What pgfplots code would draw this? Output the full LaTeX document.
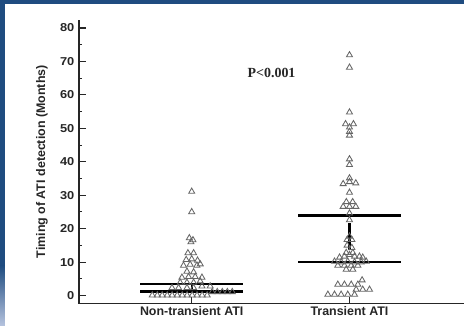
\documentclass[border=0pt]{standalone}
\usepackage{pgfplots}
\pgfplotsset{compat=1.18}
\usepackage{fontspec}
\setmainfont{Liberation Sans}
\newfontfamily\tickfont[FakeStretch=1.12]{Liberation Sans}
\newfontfamily\pfont{Liberation Serif}
\definecolor{frame}{HTML}{1F4C80}
\definecolor{framelight}{HTML}{B5C3DE}
\begin{document}
\begin{tikzpicture}[x=1bp,y=1bp]
\fill[white] (0,0) rectangle (465,326);
\fill[frame] (0,322) rectangle (465,326);
\fill[frame] (0,60) rectangle (5,326);
\shade[top color=frame,bottom color=framelight] (0,0) rectangle (5,60);
\begin{axis}[
  at={(79bp,22bp)}, anchor=south west,
  scale only axis, width=386bp, height=284bp,
  xmin=0.285, xmax=2.728, ymin=-2.4, ymax=82.4,
  axis x line=bottom, axis y line=left,
  axis line style={-, line width=1.3pt, black!85},
  tick align=inside,
  major tick length=7bp, minor tick length=3.5bp,
  tick style={line width=1.1pt, black!85},
  ytick={0,10,...,80}, minor ytick={5,15,...,75},
  xtick={1,2}, xticklabels={Non-transient ATI, Transient ATI},
  /pgf/number format/assume math mode=true,
  yticklabel style={font=\tickfont\bfseries\fontsize{11.5}{13}\selectfont, xshift=-1bp, text=black!85},
  xticklabel style={font=\bfseries\fontsize{12.5}{14}\selectfont, yshift=1bp, text=black!85},
  ylabel={Timing of ATI detection (Months)},
  ylabel style={font=\bfseries\fontsize{12.5}{14}\selectfont, at={(axis description cs:-0.096,0.5)}, anchor=center, text=black!85},
  clip=false,
]
\addplot[black, line width=2.4pt] coordinates {(0.675,3.5)(1.325,3.5)};
\addplot[black, line width=2.4pt] coordinates {(0.675,1.2)(1.325,1.2)};
\addplot[black, line width=2pt] coordinates {(1.0,1.2)(1.0,3.5)};
\addplot[black, line width=2.4pt] coordinates {(1.675,23.9)(2.325,23.9)};
\addplot[black, line width=2.4pt] coordinates {(1.675,10.0)(2.325,10.0)};
\addplot[black, line width=2.2pt] coordinates {(2.0,13.5)(2.0,21.8)};
% Non-transient ATI
\addplot[only marks, mark=triangle, mark size=3.5pt, mark options={draw=black!60, fill=white, line width=0.85pt}] coordinates {
(1.0,31.1)(1.0,25.0)(0.985,17.2)(1.008,16.6)(0.995,16.0)
(0.976,12.7)(1.012,12.7)
(0.965,10.7)(1.0,10.9)(1.037,10.5)
(0.948,9.0)(0.99,9.3)(1.033,9.0)(1.054,9.4)
(0.97,7.2)(1.012,7.0)
(0.938,5.4)(0.98,5.6)(1.022,5.6)(1.065,5.4)
(0.927,3.9)(0.97,3.9)(1.012,3.9)(1.054,4.3)
(0.875,2.3)(0.917,2.3)(0.97,2.3)(1.012,2.3)(1.065,2.8)(1.117,2.8)
(0.750,0.1)(0.782,0.1)(0.813,0.1)(0.845,0.1)(0.876,0.1)(0.908,0.1)
(0.940,0.1)(0.971,0.1)(1.003,0.1)(1.034,0.1)(1.066,0.1)(1.098,0.1)
(1.130,1.1)(1.162,1.1)(1.194,1.1)(1.226,1.1)(1.257,1.1)
};
% Transient ATI
\addplot[only marks, mark=triangle, mark size=3.5pt, mark options={draw=black!60, fill=white, line width=0.85pt}] coordinates {
(2.0,71.9)(2.0,68.2)(2.0,54.8)(1.975,51.3)(2.025,51.3)(2.0,50.3)(2.0,49.0)(2.0,47.9)(2.0,40.8)(2.0,39.1)
(2.0,35.1)(1.96,33.4)(2.0,34.0)(2.04,33.6)(2.0,30.8)
(1.98,28.0)(2.02,28.0)(1.96,26.6)(2.0,26.6)(2.04,26.6)(2.0,24.6)(2.0,22.6)
(2.0,17.7)(1.985,16.7)(2.015,16.7)(1.985,15.0)(2.015,14.3)
(1.979,12.8)(2.021,12.8)(2.0,12.2)
(1.937,11.4)(1.968,11.7)(2.032,11.7)(2.063,11.7)(2.084,11.4)
(1.905,10.2)(1.947,10.0)(1.989,10.2)(2.032,10.0)(2.074,10.0)(2.106,10.2)
(1.926,9.0)(1.968,9.0)(2.011,9.0)(2.053,9.0)
(1.979,7.8)(2.021,7.8)
(2.08,4.6)
(1.926,3.3)(1.968,3.3)(2.011,3.3)(2.053,3.3)
(2.042,1.8)(2.084,1.8)(2.127,1.8)
(1.863,0.3)(1.905,0.3)(1.947,0.3)(1.989,0.3)(2.032,0.3)
};
\node[font=\pfont\bfseries\fontsize{14}{16}\selectfont, text=black!85] at (axis cs:1.506,66.6) {P<0.001};
\end{axis}
\end{tikzpicture}
\end{document}
